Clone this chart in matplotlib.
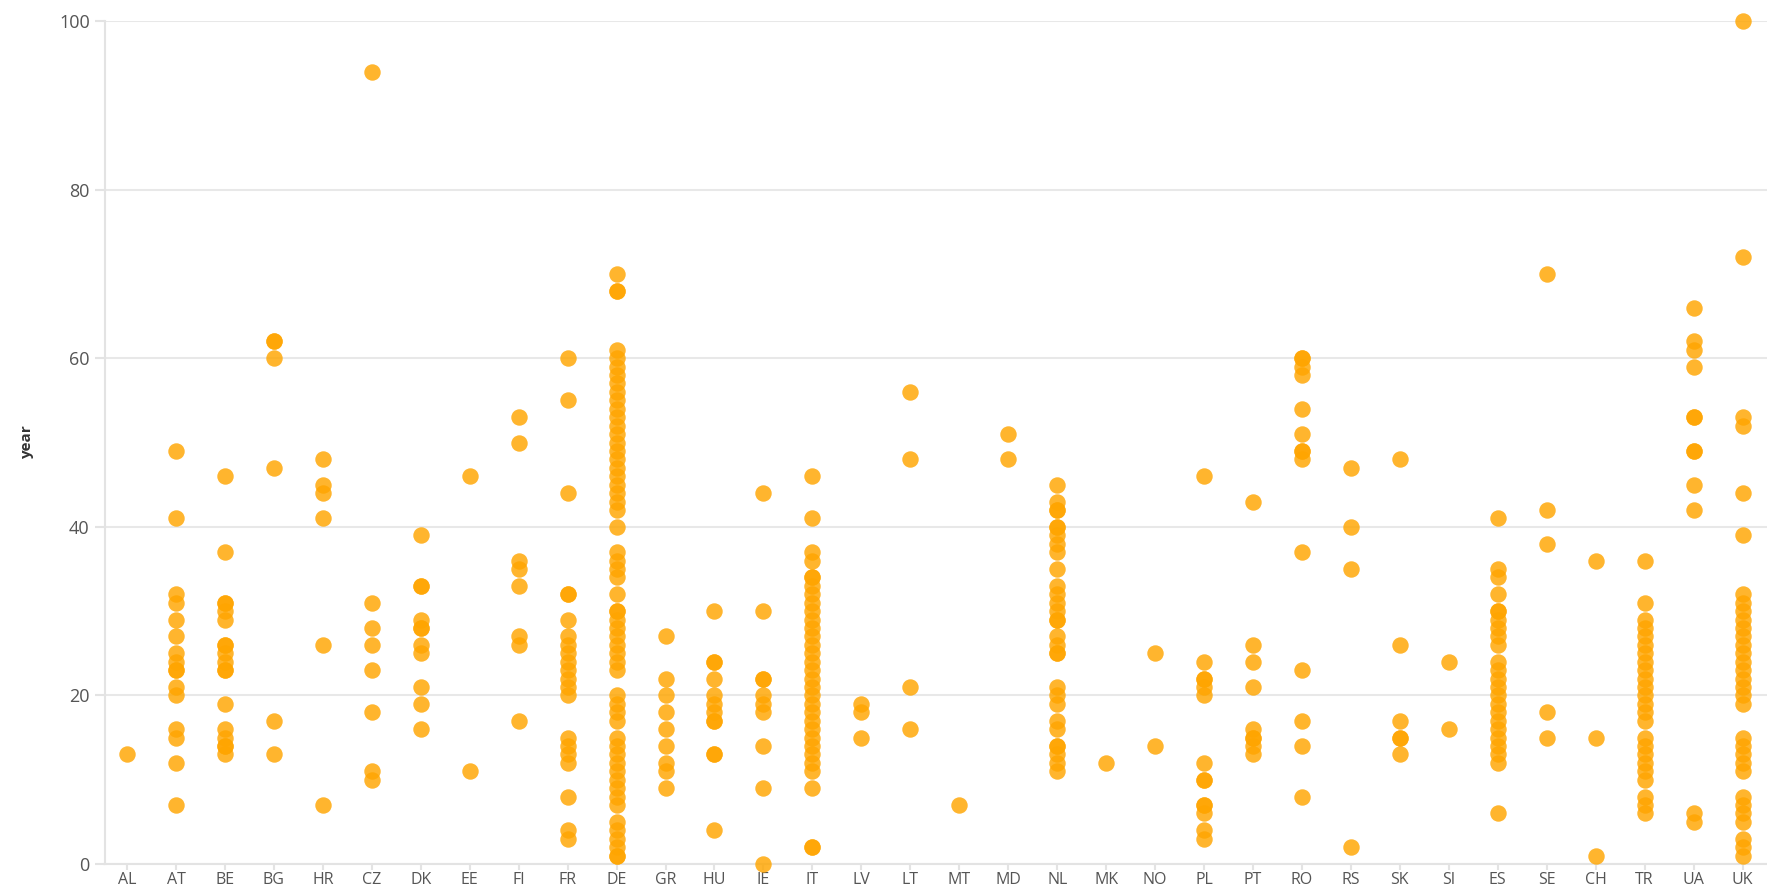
import matplotlib
matplotlib.use('Agg')
import matplotlib.pyplot as plt

# years per country
AL = [13]
AT = [49, 41, 32, 31, 29, 27, 25, 24, 23, 23, 21, 20, 16, 15, 12, 7]
BE = [46, 37, 31, 31, 30, 29, 26, 26, 25, 24, 23, 23, 19, 16, 15, 14, 14, 13]
BG = [62, 62, 60, 47, 17, 13]
HR = [48, 45, 44, 41, 26, 7]
CZ = [94, 31, 28, 26, 23, 18, 11, 10]
DK = [39, 33, 33, 29, 28, 28, 26, 25, 21, 19, 16]
EE = [46, 11]
FI = [53, 50, 36, 35, 33, 27, 26, 17]
FR = [60, 55, 44, 32, 32, 29, 27, 26, 25, 24, 23, 22, 21, 20, 15, 14, 13, 12, 8, 4, 3]
DE = [70, 68, 68, 61, 60, 59, 58, 57, 56, 55, 54, 53, 52, 51, 50, 49, 48, 47, 46, 45,
      44, 43, 42, 40, 37, 36, 35, 34, 32, 30, 30, 29, 28, 27, 26, 25, 24, 23, 20, 19,
      18, 17, 15, 14, 13, 12, 11, 10, 9, 8, 7, 5, 4, 3, 2, 1, 1]
GR = [27, 22, 20, 18, 16, 14, 12, 11, 9]
HU = [30, 24, 24, 22, 20, 19, 18, 17, 17, 13, 13, 4]
IE = [44, 30, 22, 22, 20, 19, 18, 14, 9, 0]
IT = [46, 41, 37, 36, 34, 34, 33, 32, 31, 30, 29, 28, 27, 26, 25, 24, 23, 22, 21, 20,
      19, 18, 17, 16, 15, 14, 13, 12, 11, 9, 2, 2]
LV = [19, 18, 15]
LT = [56, 48, 21, 16]
MT = [7]
MD = [51, 48]
NL = [45, 43, 42, 42, 40, 40, 39, 38, 37, 35, 33, 32, 31, 30, 29, 29, 27, 26, 25, 25,
      21, 20, 19, 17, 16, 14, 14, 13, 12, 11]
MK = [12]
NO = [25, 14]
PL = [46, 24, 22, 22, 21, 20, 12, 10, 10, 7, 7, 6, 4, 3]
PT = [43, 26, 24, 21, 16, 15, 15, 14, 13]
RO = [60, 60, 59, 58, 54, 51, 49, 49, 48, 37, 23, 17, 14, 8]
RS = [47, 40, 35, 2]
SK = [48, 26, 17, 15, 15, 13]
SI = [24, 16]
ES = [41, 35, 34, 32, 30, 30, 29, 28, 27, 26, 24, 23, 22, 21, 20, 19, 18, 17, 16, 15,
      14, 13, 12, 6]
SE = [70, 42, 38, 18, 15]
CH = [36, 15, 1]
TR = [36, 31, 29, 28, 27, 26, 25, 24, 23, 22, 21, 20, 19, 18, 17, 15, 14, 13, 12, 11,
      10, 8, 7, 6]
UA = [66, 62, 61, 59, 53, 53, 49, 49, 45, 42, 6, 5]
UK = [100, 72, 53, 52, 44, 39, 32, 31, 30, 29, 28, 27, 26, 25, 24, 23, 22, 21, 20, 19,
      15, 14, 13, 12, 11, 8, 7, 6, 5, 3, 2, 1]

countries = ['AL', 'AT', 'BE', 'BG', 'HR', 'CZ', 'DK', 'EE', 'FI', 'FR', 'DE', 'GR',
             'HU', 'IE', 'IT', 'LV', 'LT', 'MT', 'MD', 'NL', 'MK', 'NO', 'PL', 'PT',
             'RO', 'RS', 'SK', 'SI', 'ES', 'SE', 'CH', 'TR', 'UA', 'UK']
years = [AL, AT, BE, BG, HR, CZ, DK, EE, FI, FR, DE, GR, HU, IE, IT, LV, LT, MT, MD,
         NL, MK, NO, PL, PT, RO, RS, SK, SI, ES, SE, CH, TR, UA, UK]

plt.rcParams['font.family'] = ['Open Sans', 'DejaVu Sans']

fig = plt.figure(figsize=(17.67, 8.89), dpi=100)
ax = fig.add_axes([105 / 1767, 25 / 889, 1 - 105 / 1767, 843 / 889])

for code, vals in zip(countries, years):
    ax.scatter([code] * len(vals), vals, s=140, color='#ffa500', alpha=0.82,
               linewidths=0, clip_on=False, zorder=3)

ax.set_xlim(-0.45, len(countries) - 0.5)
ax.set_ylim(0, 100)
ax.set_yticks([0, 20, 40, 60, 80, 100])
ax.grid(axis='y', color='#e8e8e8', linewidth=1.5)
ax.set_axisbelow(True)
for side in ['top', 'right']:
    ax.spines[side].set_visible(False)
for side in ['left', 'bottom']:
    ax.spines[side].set_color('#e3e3e3')
    ax.spines[side].set_linewidth(1.5)
ax.tick_params(axis='y', colors='#e3e3e3', labelcolor='#555555', labelsize=13,
               length=7, width=1.5, pad=4)
ax.tick_params(axis='x', colors='#e3e3e3', labelcolor='#555555', labelsize=11.5,
               length=4, width=1.5, pad=2)
ax.set_ylabel('year', fontsize=11, fontweight='bold', color='#333333', labelpad=18)

fig.savefig('out.png', dpi=100)
